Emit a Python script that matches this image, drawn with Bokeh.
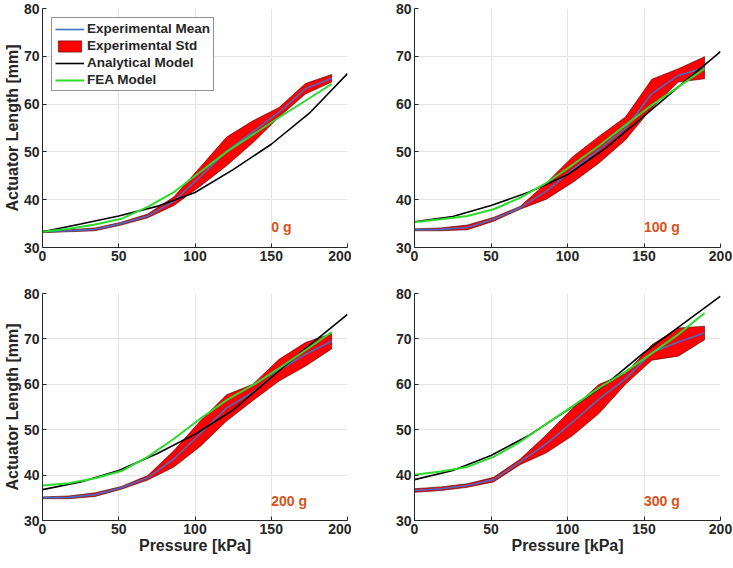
from bokeh.plotting import figure
from bokeh.layouts import column, row
from bokeh.models import Range1d, Legend, LegendItem, FixedTicker
from bokeh.core.properties import value
from bokeh.embed import file_html
from bokeh.resources import INLINE

# ---------------- data ----------------
pressure_exp = [0, 17.2, 34.5, 51.7, 69.0, 86.2, 103.4, 120.7, 137.9, 155.1, 172.4, 189.6]
pressure_ana = [0, 25, 50, 75, 100, 125, 150, 175, 200]

loads = ["0 g", "100 g", "200 g", "300 g"]

mean_0 = [33.3, 33.5, 33.8, 35.0, 36.6, 39.7, 44.8, 50.1, 54.2, 58.3, 63.2, 65.4]
std_0 = [0.2, 0.2, 0.3, 0.3, 0.4, 0.9, 2.0, 3.0, 2.3, 1.0, 1.1, 0.8]
fea_0 = [33.3, 33.9, 34.8, 36.0, 38.5, 41.6, 45.8, 50.0, 53.6, 57.2, 60.7, 64.2]
ana_0 = [33.3, 34.9, 36.6, 38.6, 41.5, 46.3, 51.6, 58.1, 66.4]

mean_100 = [33.7, 33.8, 34.2, 35.9, 38.3, 41.8, 46.3, 50.5, 54.9, 62.2, 66.0, 67.6]
std_100 = [0.2, 0.3, 0.5, 0.4, 0.3, 1.7, 2.7, 2.8, 2.4, 3.0, 1.4, 2.3]
fea_100 = [35.3, 35.9, 36.6, 38.0, 40.4, 43.5, 47.3, 51.3, 55.6, 59.8, 63.6, 67.4]
ana_100 = [35.4, 36.5, 38.8, 41.6, 45.2, 50.8, 57.5, 64.3, 71.0]

mean_200 = [35.0, 35.1, 35.7, 37.2, 39.4, 43.6, 49.1, 54.8, 58.2, 63.1, 66.6, 69.5]
std_200 = [0.2, 0.3, 0.4, 0.3, 0.5, 1.8, 2.8, 2.9, 1.8, 2.4, 2.6, 1.7]
fea_200 = [37.7, 38.2, 39.3, 40.9, 44.0, 48.0, 52.4, 56.5, 59.8, 63.5, 67.5, 71.5]
ana_200 = [36.8, 38.5, 41.0, 44.7, 49.0, 54.3, 61.5, 68.6, 75.4]

mean_300 = [36.6, 37.0, 37.7, 39.0, 42.9, 46.9, 51.7, 56.8, 61.2, 67.0, 69.3, 71.3]
std_300 = [0.4, 0.4, 0.4, 0.5, 0.6, 2.0, 3.0, 3.2, 1.2, 1.7, 3.1, 1.5]
fea_300 = [40.1, 40.8, 41.8, 44.0, 47.3, 51.3, 55.2, 59.2, 62.8, 66.8, 71.0, 75.7]
ana_300 = [39.0, 41.0, 44.3, 48.8, 54.3, 60.0, 67.0, 73.2, 79.4]

x_ticks = [0, 50, 100, 150, 200]
y_ticks = [30, 40, 50, 60, 70, 80]

FONT = "Liberation Sans"
DARK = "#262626"


def make_panel(mean, std, fea, ana, label, width, height, show_ylabel, show_xlabel,
               legend, mb_left, mb_top, mb_bottom, mb_right):
    p = figure(width=width, height=height, output_backend="svg", toolbar_location=None,
               x_range=Range1d(0, 200), y_range=Range1d(30, 80),
               min_border_left=mb_left, min_border_top=mb_top,
               min_border_bottom=mb_bottom, min_border_right=mb_right)
    p.outline_line_color = None
    p.background_fill_color = "white"
    p.border_fill_color = "white"

    for ax in (p.xaxis[0], p.yaxis[0]):
        ax.axis_line_color = DARK
        ax.axis_line_width = 1
        ax.major_tick_line_color = DARK
        ax.major_tick_in = 4
        ax.major_tick_out = 0
        ax.minor_tick_line_color = None
        ax.major_label_text_font = FONT
        ax.major_label_text_font_style = "bold"
        ax.major_label_text_font_size = "14px"
        ax.major_label_text_color = DARK
        ax.major_label_standoff = 3
        ax.axis_label_text_font = FONT
        ax.axis_label_text_font_style = "bold"
        ax.axis_label_text_font_size = "16px"
        ax.axis_label_text_color = DARK
        ax.axis_label_standoff = 0
    p.xaxis.ticker = FixedTicker(ticks=x_ticks)
    p.yaxis.ticker = FixedTicker(ticks=y_ticks)
    if show_ylabel:
        p.yaxis.axis_label = "Actuator Length [mm]"
    if show_xlabel:
        p.xaxis.axis_label = "Pressure [kPa]"
    p.grid.grid_line_color = "#E3E3E3"
    p.grid.grid_line_width = 1

    upper = [m + s for m, s in zip(mean, std)]
    lower = [m - s for m, s in zip(mean, std)]
    px = list(pressure_exp) + list(reversed(pressure_exp))
    py = upper + list(reversed(lower))

    r_std = p.patch(px, py, fill_color="#FF0000", line_color="#3a0000", line_width=0.6)
    r_mean = p.line(pressure_exp, mean, line_color="#3F6FC8", line_width=1.6)
    r_ana = p.line(pressure_ana, ana, line_color="black", line_width=1.6)
    r_fea = p.line(pressure_exp, fea, line_color="#2BDB2B", line_width=2)

    p.text(x=[150], y=[34.3], text=[label], text_font=value(FONT), text_font_style="bold",
           text_font_size="14px", text_color="#D95319", text_baseline="middle",
           text_align="left")

    if legend:
        lg = Legend(items=[
            LegendItem(label="Experimental Mean", renderers=[r_mean]),
            LegendItem(label="Experimental Std", renderers=[r_std]),
            LegendItem(label="Analytical Model", renderers=[r_ana]),
            LegendItem(label="FEA Model", renderers=[r_fea]),
        ], location="top_left")
        lg.margin = 9
        lg.padding = 3
        lg.spacing = 2
        lg.glyph_width = 29
        lg.glyph_height = 14
        lg.label_height = 15
        lg.label_standoff = 3
        lg.label_text_font = FONT
        lg.label_text_font_style = "bold"
        lg.label_text_font_size = "13.5px"
        lg.label_text_color = DARK
        lg.border_line_color = DARK
        lg.border_line_width = 1
        lg.background_fill_color = "white"
        lg.background_fill_alpha = 1
        p.add_layout(lg)
    return p


p1 = make_panel(mean_0, std_0, fea_0, ana_0, loads[0], 351, 275, True, False, True, 30, 8, 28, 4)
p2 = make_panel(mean_100, std_100, fea_100, ana_100, loads[1], 382, 275, False, False, False, 63, 8, 28, 13)
p3 = make_panel(mean_200, std_200, fea_200, ana_200, loads[2], 351, 291, True, True, False, 30, 18, 46, 4)
p4 = make_panel(mean_300, std_300, fea_300, ana_300, loads[3], 382, 291, False, True, False, 63, 18, 46, 13)

layout = column(row(p1, p2), row(p3, p4))

open("out.html", "w").write(file_html(layout, INLINE))
